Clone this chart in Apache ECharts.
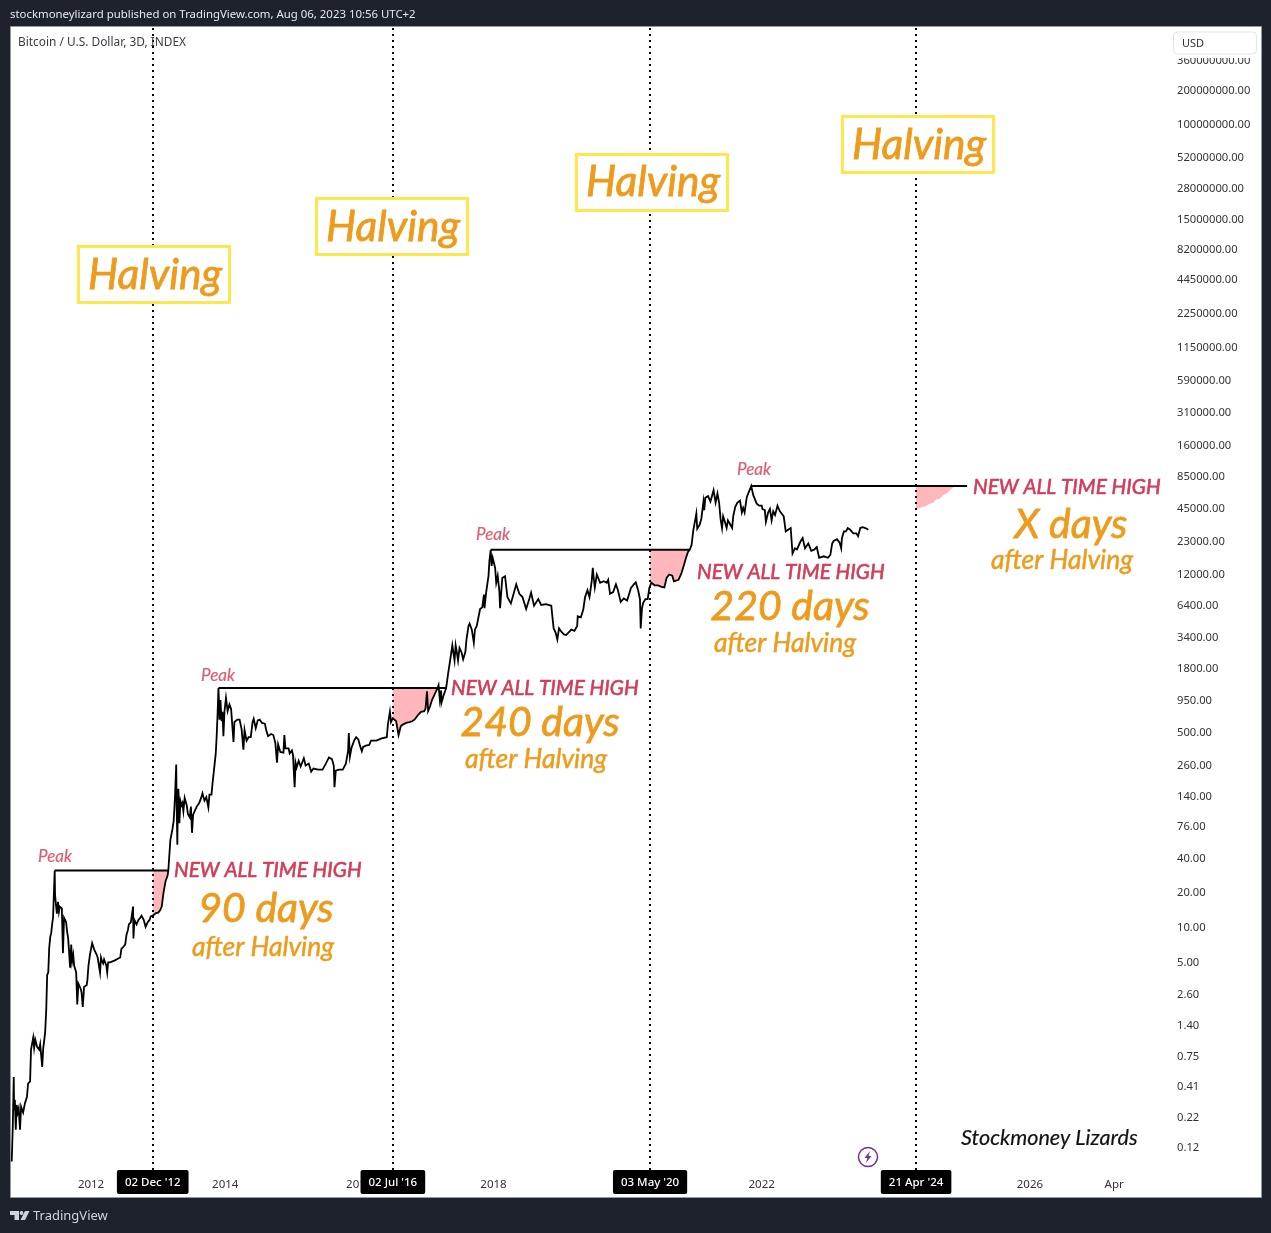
<!DOCTYPE html>
<html>
<head>
<meta charset="utf-8">
<style>
html, body { margin: 0; padding: 0; background: #1e222d; }
#main { width: 1271px; height: 1233px; }
</style>
<script src="https://cdn.jsdelivr.net/npm/echarts@6/dist/echarts.min.js"></script>
</head>
<body>
<div id="main"></div>
<script>
// prices, [date, USD]
var cycle2011 = [
["2010-10-26",0.09],["2010-11-01",0.19],["2010-11-06",0.49],["2010-11-08",0.25],["2010-11-12",0.31],["2010-11-17",0.17],["2010-11-22",0.28],["2010-11-28",0.24],["2010-12-03",0.26],["2010-12-10",0.17],["2010-12-16",0.27],["2010-12-27",0.24],
["2011-01-06",0.29],["2011-01-17",0.33],["2011-01-23",0.43],["2011-02-03",0.45],["2011-02-08",0.85],["2011-02-20",1.08],["2011-02-25",0.88],["2011-03-03",1.04],["2011-03-13",0.9],["2011-03-24",0.85],["2011-03-30",0.95],["2011-04-10",0.6],["2011-04-15",0.85],["2011-04-26",1.2],["2011-05-02",1.9],["2011-05-07",3.8],["2011-05-13",4],["2011-05-18",6.5],["2011-05-24",8.2],["2011-05-29",8.8],["2011-06-03",10.5],["2011-06-08",12],
["2011-06-17",31],["2011-06-19",19],["2011-06-24",15.5],["2011-06-29",13],["2011-07-05",16.5],["2011-07-10",13.5],["2011-07-15",15],["2011-07-26",14.5],["2011-08-01",5.9],["2011-08-07",12],["2011-08-18",11],["2011-08-24",9],["2011-08-29",8],["2011-09-03",6.2],["2011-09-09",4.4],["2011-09-15",7],["2011-09-20",5],["2011-09-26",5.7],["2011-10-01",4.6],["2011-10-12",4],["2011-10-18",2.1],["2011-10-24",3.2],["2011-10-30",3.1],["2011-11-05",2.9],["2011-11-10",2.7],["2011-11-17",2],["2011-11-24",3],["2011-11-30",3.1],["2011-12-08",3.1],["2011-12-12",3.4],["2011-12-18",4.6],["2011-12-26",5.7],
["2012-01-07",7.2],["2012-01-13",7],["2012-01-19",6.3],["2012-01-25",6.3],["2012-02-01",5.7],["2012-02-06",5.4],["2012-02-19",4],["2012-02-24",5.4],["2012-03-01",5],["2012-03-07",4.8],["2012-03-12",5.2],["2012-03-24",4.6],["2012-03-29",4],["2012-04-03",4.9],["2012-04-14",4.9],["2012-05-10",5.1],["2012-05-28",5.3],["2012-06-08",5.4],["2012-06-14",6.4],["2012-06-20",6.6],["2012-06-25",6.7],["2012-07-05",7],["2012-07-12",8.5],["2012-07-20",9.4],["2012-07-25",10.5],["2012-08-05",11],["2012-08-10",12.5],["2012-08-17",15],["2012-08-19",7.9],["2012-08-24",11.5],["2012-09-05",10.5],["2012-09-15",11.5],["2012-09-25",12],["2012-10-02",12.5],["2012-10-14",11.5],["2012-10-24",10],["2012-11-05",11],["2012-11-15",11.5],["2012-11-21",12.3],
["2012-12-02",12.5],["2012-12-05",13],["2012-12-20",13.2],["2013-01-01",13.3],["2013-01-12",14],["2013-01-20",15],["2013-01-30",20],["2013-02-10",25],["2013-02-21",28],["2013-02-25",31]
];
var cycle2013 = [
["2013-03-08",57],["2013-03-20",72],["2013-03-26",84],["2013-03-31",115],["2013-04-03",146],["2013-04-09",260],["2013-04-11",126],["2013-04-15",52],["2013-04-18",125],["2013-04-21",160],["2013-04-26",80],["2013-05-02",125],["2013-05-08",115],["2013-05-13",120],["2013-05-18",102],["2013-05-25",133],["2013-06-05",115],["2013-06-12",96],["2013-06-22",90],["2013-06-28",112],["2013-07-04",66],["2013-07-10",95],["2013-07-20",98],["2013-07-30",112],["2013-08-12",120],["2013-08-24",135],["2013-08-30",146],["2013-09-10",126],["2013-09-20",135],["2013-10-01",110],["2013-10-07",142],["2013-10-18",142],["2013-10-24",180],["2013-10-30",220],["2013-11-05",220],["2013-11-10",320],["2013-11-15",450],["2013-11-20",700],
["2013-11-25",1210],["2013-12-01",640],["2013-12-06",950],["2013-12-12",620],["2013-12-17",750],["2013-12-22",460],["2013-12-28",760],["2014-01-05",990],["2014-01-14",760],["2014-01-24",870],["2014-02-02",790],["2014-02-09",760],["2014-02-15",410],["2014-02-20",610],["2014-02-26",600],["2014-03-08",640],["2014-03-20",640],["2014-03-31",530],["2014-04-10",350],["2014-04-16",520],["2014-04-27",420],["2014-05-08",450],["2014-05-20",450],["2014-05-30",610],["2014-06-05",650],["2014-06-16",540],["2014-06-27",630],["2014-07-08",640],["2014-07-20",600],["2014-08-05",590],["2014-08-12",520],["2014-08-22",460],["2014-09-08",480],["2014-09-20",470],["2014-10-01",400],["2014-10-10",270],["2014-10-16",390],["2014-10-28",335],["2014-11-14",330],["2014-11-19",470],["2014-11-25",360],["2014-12-12",360],["2014-12-18",325],["2014-12-30",345],
["2015-01-05",315],["2015-01-14",165],["2015-01-19",270],["2015-01-25",245],["2015-02-05",280],["2015-02-16",250],["2015-03-05",295],["2015-03-15",255],["2015-04-01",265],["2015-04-14",225],["2015-04-26",240],["2015-05-05",235],["2015-05-22",235],["2015-06-15",235],["2015-07-03",265],["2015-07-20",300],["2015-08-05",290],["2015-08-15",255],["2015-08-19",165],["2015-08-26",230],["2015-09-12",235],["2015-10-03",235],["2015-10-20",265],["2015-11-01",340],["2015-11-05",490],["2015-11-11",305],["2015-11-20",365],["2015-12-04",420],["2015-12-15",450],["2015-12-27",430],
["2016-01-05",380],["2016-01-15",340],["2016-01-22",370],["2016-02-06",380],["2016-02-24",385],["2016-03-05",420],["2016-04-03",420],["2016-05-02",440],["2016-05-30",450],["2016-06-05",580],["2016-06-16",750],["2016-06-22",610],["2016-07-02",660],["2016-07-10",640],["2016-07-20",620],["2016-07-27",600],["2016-08-02",470],["2016-08-14",560],["2016-08-25",580],["2016-09-12",600],["2016-09-30",610],["2016-10-15",620],["2016-10-28",640],["2016-11-15",700],["2016-12-02",750],["2016-12-20",760],["2016-12-27",800],["2017-01-04",1130],["2017-01-10",760],["2017-01-20",830],["2017-01-31",950],["2017-02-10",950],["2017-02-22",1130],["2017-03-03",1210]
];
var cycle2017 = [
["2017-03-08",1280],["2017-03-15",950],["2017-03-22",1150],["2017-03-24",900],["2017-04-05",1050],["2017-04-18",1200],["2017-04-30",1650],["2017-05-10",2100],["2017-05-22",2850],["2017-05-28",2750],["2017-06-03",2100],["2017-06-09",2850],["2017-06-15",2500],["2017-06-22",2100],["2017-06-30",2700],["2017-07-10",2500],["2017-07-20",2150],["2017-08-01",2500],["2017-08-07",3200],["2017-08-18",4200],["2017-08-24",4400],["2017-09-05",3900],["2017-09-16",3000],["2017-09-22",3900],["2017-10-02",4200],["2017-10-20",5900],["2017-11-01",6100],["2017-11-10",7900],["2017-11-13",6000],["2017-11-22",8200],["2017-11-30",8200],["2017-12-05",11500],["2017-12-10",15500],
["2017-12-17",19350],["2017-12-22",14000],["2017-12-28",16500],["2018-01-06",16500],["2018-01-10",13500],["2018-01-16",10000],["2018-01-24",11500],["2018-02-02",8500],["2018-02-06",6000],["2018-02-18",11000],["2018-03-05",11400],["2018-03-18",7500],["2018-04-06",6600],["2018-05-05",9700],["2018-05-22",8000],["2018-06-08",7500],["2018-06-28",5900],["2018-07-15",7200],["2018-07-25",8200],["2018-08-10",6300],["2018-08-20",6300],["2018-09-02",7200],["2018-09-18",6400],["2018-10-15",6500],["2018-11-12",6300],["2018-11-20",4700],["2018-11-25",4000],["2018-12-05",3700],["2018-12-15",3200],["2018-12-24",4000],
["2019-01-08",3700],["2019-01-20",3550],["2019-02-01",3500],["2019-02-08",3600],["2019-03-01",3900],["2019-03-18",3800],["2019-04-02",4200],["2019-04-05",5100],["2019-04-22",5000],["2019-05-05",5800],["2019-05-15",7500],["2019-05-28",8600],["2019-06-08",7500],["2019-06-20",10300],["2019-06-26",13500],["2019-07-01",11000],["2019-07-07",9100],["2019-07-18",11800],["2019-08-05",10000],["2019-08-25",10300],["2019-09-10",10000],["2019-09-18",10600],["2019-09-28",8000],["2019-10-15",8300],["2019-10-30",9700],["2019-11-10",8600],["2019-11-25",6800],["2019-12-12",7300],["2019-12-30",7000],
["2020-01-20",9000],["2020-02-05",9700],["2020-02-15",10100],["2020-02-28",8600],["2020-03-09",7200],["2020-03-13",4000],["2020-03-20",6000],["2020-03-27",6700],["2020-04-08",7200],["2020-04-20",7200],["2020-04-29",9000],["2020-05-03",9200],["2020-05-10",10000],["2020-05-28",9500],["2020-06-15",9500],["2020-07-05",9200],["2020-07-20",9100],["2020-08-01",11000],["2020-08-15",11800],["2020-09-01",11500],["2020-09-10",10300],["2020-09-20",10500],["2020-10-05",10600],["2020-10-20",12000],["2020-11-02",14000],["2020-11-15",16500],["2020-11-25",18500],["2020-12-05",19350]
];
var cycle2021 = [
["2020-12-15",21300],["2020-12-25",29000],["2021-01-05",36000],["2021-01-10",40000],["2021-01-15",29500],["2021-01-28",32000],["2021-02-06",36000],["2021-02-18",51000],["2021-02-22",43000],["2021-02-28",55000],["2021-03-15",57000],["2021-03-28",51000],["2021-04-14",64000],["2021-04-25",50000],["2021-05-05",60000],["2021-05-14",50000],["2021-05-22",36000],["2021-05-30",30000],["2021-06-05",38000],["2021-06-12",35000],["2021-06-24",30000],["2021-07-01",35000],["2021-07-10",33000],["2021-07-24",30000],["2021-07-30",38000],["2021-08-10",46000],["2021-08-22",50000],["2021-09-05",52000],["2021-09-15",41000],["2021-09-22",45000],["2021-09-30",41000],["2021-10-12",56000],["2021-10-25",63000],["2021-11-05",69800],["2021-11-16",58000],["2021-11-24",56000],["2021-12-05",49000],["2021-12-18",47000],
["2022-01-01",47000],["2022-01-05",44000],["2022-01-18",43000],["2022-01-24",34000],["2022-02-05",41000],["2022-02-15",44000],["2022-02-24",35000],["2022-03-05",42000],["2022-03-15",39000],["2022-03-28",47000],["2022-04-10",42000],["2022-05-01",38000],["2022-05-12",28000],["2022-05-25",29000],["2022-06-08",30000],["2022-06-14",22000],["2022-06-18",18000],["2022-07-01",20000],["2022-07-12",19500],["2022-08-01",23000],["2022-08-12",24500],["2022-08-25",20000],["2022-09-03",19500],["2022-09-12",22000],["2022-09-28",19000],["2022-10-15",19500],["2022-10-28",20500],["2022-11-05",20500],["2022-11-10",16500],["2022-11-20",16000],["2022-12-05",17000],["2022-12-28",16500],
["2023-01-10",17500],["2023-01-20",22000],["2023-01-28",23200],["2023-02-15",24000],["2023-03-01",22500],["2023-03-10",20000],["2023-03-14",24500],["2023-03-25",28000],["2023-04-05",28000],["2023-04-15",30000],["2023-04-28",29000],["2023-05-15",27000],["2023-06-01",27000],["2023-06-10",25500],["2023-06-18",26500],["2023-06-22",30000],["2023-07-05",30500],["2023-07-20",30000],["2023-08-05",29000]
];
// the pink wedge after the 2024 halving, no price line there
var projected2024 = [
["2024-04-21",43000],["2024-05-05",44500],["2024-05-22",45800],["2024-06-10",46500],["2024-06-30",48500],["2024-07-22",49700],["2024-08-10",54000],["2024-08-25",53500],["2024-09-15",58000],["2024-10-05",60000],["2024-10-25",65000],["2024-11-20",69800]
];

var peakPrices = [31, 1210, 19350, 69800];
var peakStart = ["2011-06-17", "2013-11-25", "2017-12-17", "2021-11-05"];
var peakEnd = ["2013-02-25", "2017-04-20", "2020-12-05", "2025-01-24"];
var crossDates = ["2013-02-25", "2017-03-03", "2020-12-05"];

var halvingDates = ["2012-12-02", "2016-07-02", "2020-05-03", "2024-04-21"];
var halvingLabels = ["02 Dec '12", "02 Jul '16", "03 May '20", "21 Apr '24"];

var yTicks = [360000000,200000000,100000000,52000000,28000000,15000000,8200000,4450000,2250000,1150000,590000,310000,160000,85000,45000,23000,12000,6400,3400,1800,950,500,260,140,76,40,20,10,5,2.6,1.4,0.75,0.41,0.22,0.12];
var xTickDates = ["2012-01-01","2014-01-01","2016-01-01","2018-01-01","2020-01-01","2022-01-01","2024-01-01","2026-01-01","2027-04-05"];
var xTickLabels = ["2012","2014","2016","2018","2020","2022","2024","2026","Apr"];

function ms(d) { return +new Date(d + "T00:00:00Z"); }
function msRows(rows) { return rows.map(function (r) { return [ms(r[0]), r[1]]; }); }

var prices = cycle2011.concat(cycle2013, cycle2017, cycle2021);
var xTickValues = xTickDates.map(ms);

var uiFont = "'Noto Sans', sans-serif";
var noteFont = "Lato, sans-serif";
var yellow = "#fde74c", orange = "#ee9b1c", red = "#d13d58", peakRed = "#db5f73";

function noteText(text, x, y, size, color, align, bold) {
    return {
        type: "text", z: 50, x: x, y: y,
        style: {
            text: text, fill: color, align: align || "center", verticalAlign: "middle",
            font: "italic " + size + "px " + noteFont,
            stroke: color, lineWidth: bold || 0
        }
    };
}
function uiText(text, x, y, size, color) {
    return {
        type: "text", z: 50, x: x, y: y,
        style: { text: text, fill: color, align: "left", verticalAlign: "middle", font: size + "px " + uiFont }
    };
}
function halvingBox(x, y) {
    return {
        type: "rect", z: 40,
        shape: { x: x, y: y, width: 151, height: 56 },
        style: { fill: "#fff", stroke: yellow, lineWidth: 3 }
    };
}
function halvingNote(x, y) { return noteText("Halving", x, y, 42.5, orange, "center", 0.8); }
function bigNote(text, x, y) { return noteText(text, x, y, 41, orange, "center", 0.8); }
function afterNote(x, y) { return noteText("after Halving", x, y, 26.5, orange, "center", 0.5); }
function peakNote(x, y) { return noteText("Peak", x, y, 17, peakRed, "center", 0.2); }
function newHigh(x, y) { return noteText("NEW ALL TIME HIGH", x, y, 20.7, red, "left", 0.6); }

var notes = [
    // white pane behind everything, axis labels sit on it
    { type: "rect", z: -10, shape: { x: 10.5, y: 26.5, width: 1251, height: 1171 }, style: { fill: "#fff", stroke: "#9598a1", lineWidth: 1 } },
    uiText("stockmoneylizard published on TradingView.com, Aug 06, 2023 10:56 UTC+2", 10, 15, 11.4, "#e6e8ee"),
    uiText("Bitcoin / U.S. Dollar, 3D, INDEX", 18, 43, 11.9, "#3a3d46"),
    { type: "rect", z: 45, shape: { x: 1173, y: 28, width: 87, height: 30 }, style: { fill: "#fff" } },
    { type: "rect", z: 46, shape: { x: 1173.5, y: 32, width: 83, height: 22, r: 4 }, style: { fill: "#fff", stroke: "#e4e5e9", lineWidth: 1 } },
    uiText("USD", 1182, 44, 11, "#333"),

    halvingBox(78.5, 246.5), halvingNote(155, 275),
    halvingBox(316.5, 198.5), halvingNote(393, 227),
    halvingBox(576.5, 154.5), halvingNote(653, 182),
    halvingBox(842.5, 116.5), halvingNote(919, 145),

    peakNote(55, 857), peakNote(218, 676), peakNote(493, 535), peakNote(754, 470),

    newHigh(174, 870), bigNote("90 days", 266, 909), afterNote(263, 947),
    newHigh(451, 688), bigNote("240 days", 540, 723), afterNote(536, 759),
    newHigh(697, 572), bigNote("220 days", 790, 607), afterNote(785, 643),
    newHigh(973, 487), bigNote("X days", 1071, 525), afterNote(1062, 560),

    noteText("Stockmoney Lizards", 961, 1138, 21.6, "#111", "left", 0.2),

    // lightning badge
    { type: "circle", z: 50, shape: { cx: 868, cy: 1157, r: 9.5 }, style: { fill: "#fff", stroke: "#7b2f8e", lineWidth: 1.5 } },
    { type: "polygon", z: 51, shape: { points: [[870, 1151], [864.5, 1158], [867.5, 1158], [866, 1163], [871.5, 1156], [868.5, 1156]] }, style: { fill: "#7b2f8e" } },
    // TradingView mark in the footer
    { type: "polygon", z: 50, shape: { points: [[10, 1211], [19, 1211], [19, 1220], [14.5, 1220], [14.5, 1215], [10, 1215]] }, style: { fill: "#d1d4dc" } },
    { type: "circle", z: 50, shape: { cx: 21.5, cy: 1213, r: 1.9 }, style: { fill: "#d1d4dc" } },
    { type: "polygon", z: 50, shape: { points: [[25, 1211], [29.5, 1211], [25, 1220], [20.5, 1220]] }, style: { fill: "#d1d4dc" } },
    uiText("TradingView", 33, 1216, 13, "#d1d4dc")
];

function fillSeries(rows, level) {
    return {
        type: "line", data: msRows(rows), symbol: "none", silent: true, z: 1,
        lineStyle: { width: 0 },
        areaStyle: { color: "#ffb7bb", opacity: 1, origin: level }
    };
}

var series = [];
// pink wedges between halving and the new high
crossDates.forEach(function (d, i) {
    var rows = prices.filter(function (r) { return r[0] >= halvingDates[i] && r[0] <= d; });
    series.push(fillSeries(rows, peakPrices[i]));
});
series.push(fillSeries(projected2024, peakPrices[3]));

series.push({
    type: "line", data: msRows(prices), symbol: "none", z: 4, silent: true,
    lineStyle: { color: "#000", width: 1.8, join: "miter" }
});
peakPrices.forEach(function (p, i) {
    series.push({
        type: "line", data: [[ms(peakStart[i]), p], [ms(peakEnd[i]), p]], symbol: "none", z: 5, silent: true,
        lineStyle: { color: "#000", width: 2 }
    });
});
// halving lines and their date tags
series.push({
    type: "line", data: [], z: 6, silent: true,
    markLine: {
        silent: true, symbol: "none", animation: false, z: 30,
        lineStyle: { color: "#000", width: 2, type: [2, 4] },
        label: {
            position: "start", distance: 0, color: "#fff", backgroundColor: "#000",
            padding: [7, 8, 5, 8], borderRadius: 2, fontFamily: uiFont, fontSize: 11.5, fontWeight: 500
        },
        data: halvingDates.map(function (d, i) {
            return { xAxis: ms(d), label: { formatter: halvingLabels[i] } };
        })
    }
});

var myChart = echarts.init(document.getElementById("main"));
var option = {
    animation: false,
    backgroundColor: "#1e222d",
    grid: { left: 11, top: 27, width: 1161, height: 1143, containLabel: false },
    xAxis: {
        type: "value",
        min: ms("2010-10-22"),
        max: ms("2028-02-14"),
        axisLine: { show: false },
        axisTick: { show: false },
        splitLine: { show: false },
        axisLabel: {
            customValues: xTickValues,
            margin: 9,
            color: "#333",
            fontFamily: uiFont,
            fontSize: 11.5,
            formatter: function (v) {
                return xTickLabels[xTickValues.indexOf(+v)] || "";
            }
        }
    },
    yAxis: {
        type: "log",
        position: "right",
        logBase: 10,
        min: 0.0758,
        max: 701000000,
        axisLine: { show: false },
        axisTick: { show: false },
        splitLine: { show: false },
        axisLabel: {
            customValues: yTicks,
            margin: 5,
            color: "#333",
            fontFamily: uiFont,
            fontSize: 11.2,
            // nudges the text a pixel down from the tick
            rich: { p: { padding: [2, 0, 0, 0], color: "#333", fontFamily: uiFont, fontSize: 11.2 } },
            formatter: function (v) { return "{p|" + Number(v).toFixed(2) + "}"; }
        }
    },
    graphic: { elements: notes },
    series: series
};
myChart.setOption(option);
window.addEventListener("resize", function () {
    myChart.resize();
});
</script>
</body>
</html>
